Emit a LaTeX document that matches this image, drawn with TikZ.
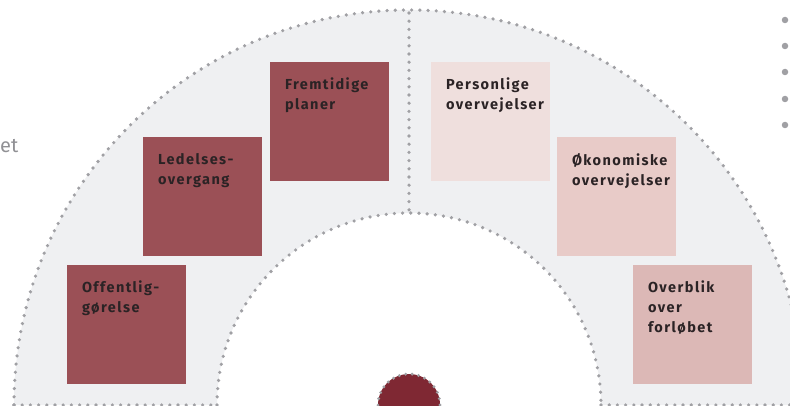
\documentclass[tikz,border=0pt]{standalone}
\usepackage{fontspec}
\setmainfont{Fira Sans}
\newfontfamily\boxfont[LetterSpace=10]{Fira Sans}
\definecolor{ringfill}{HTML}{EFF0F2}
\definecolor{dotgray}{HTML}{A0A0A4}
\definecolor{darkbox}{HTML}{9B5056}
\definecolor{lightA}{HTML}{EFDFDD}
\definecolor{lightB}{HTML}{E8CBC8}
\definecolor{lightC}{HTML}{DCB8B6}
\definecolor{txt}{HTML}{2B2325}
\definecolor{centerred}{HTML}{7F2833}
\tikzset{
  dotline/.style={draw=dotgray, line width=3.6pt, line cap=round, dash pattern=on 0pt off 8.2pt},
  sq/.style={minimum width=119pt, minimum height=119pt, inner sep=0pt, draw=none},
  lbl/.style={anchor=north west, inner sep=0pt, align=left, text=txt, font=\boxfont\bfseries\fontsize{14.5}{20}\selectfont},
}
\begin{document}
\begin{tikzpicture}[x=1pt,y=1pt]
\useasboundingbox (0,0) rectangle (790,405);
% ring
\fill[ringfill] (14,0) arc[start angle=180,end angle=0,radius=395] -- (601,0) arc[start angle=0,end angle=180,radius=192] -- cycle;
\draw[dotline] (14,0) arc[start angle=180,end angle=0,radius=395];
\draw[dotline] (217,0) arc[start angle=180,end angle=0,radius=192];
\draw[dotline] (14,0) -- (217,0);
\draw[dotline] (601,0) -- (804,0);
\coordinate (dtop) at (409,392);
\coordinate (dbot) at (409,193);
\draw[dotline] (dtop) -- (dbot);
% centre circle
\node[circle, fill=centerred, minimum size=62pt, inner sep=0pt] (c) at (409,0) {};
\draw[draw=dotgray, line width=3.2pt, line cap=round, dash pattern=on 0pt off 6.5pt] (c.center) circle[radius=31];
% boxes
\node[sq, fill=darkbox] (b1) at (126.5,80.5) {};
\node[sq, fill=darkbox] (b2) at (202.5,208.5) {};
\node[sq, fill=darkbox] (b3) at (329.5,283.5) {};
\node[sq, fill=lightA] (b4) at (490.5,283.5) {};
\node[sq, fill=lightB] (b5) at (616.5,208.5) {};
\node[sq, fill=lightC] (b6) at (692.5,80.5) {};
\node[lbl] (t1) at ([xshift=15pt,yshift=-16pt]b1.north west) {Offentlig-\\gørelse};
\node[lbl] (t2) at ([xshift=15pt,yshift=-16pt]b2.north west) {Ledelses-\\overgang};
\node[lbl] (t3) at ([xshift=15pt,yshift=-16pt]b3.north west) {Fremtidige\\planer};
\node[lbl] (t4) at ([xshift=15pt,yshift=-16pt]b4.north west) {Personlige\\overvejelser};
\node[lbl] (t5) at ([xshift=15pt,yshift=-16pt]b5.north west) {Økonomiske\\overvejelser};
\node[lbl] (t6) at ([xshift=15pt,yshift=-16pt]b6.north west) {Overblik\\over\\forløbet};
% side text
\node[anchor=base west, inner sep=0pt, text=dotgray!90!black, font=\fontsize{20}{22}\selectfont] (et) at (0,252) {et};
% right dots
\foreach \yy/\nm in {411/d0,385/d1,359/d2,333/d3,306/d4,280/d5}
  \node[circle, fill=dotgray, minimum size=6.5pt, inner sep=0pt] (\nm) at (785,\yy) {};
\end{tikzpicture}
\end{document}
